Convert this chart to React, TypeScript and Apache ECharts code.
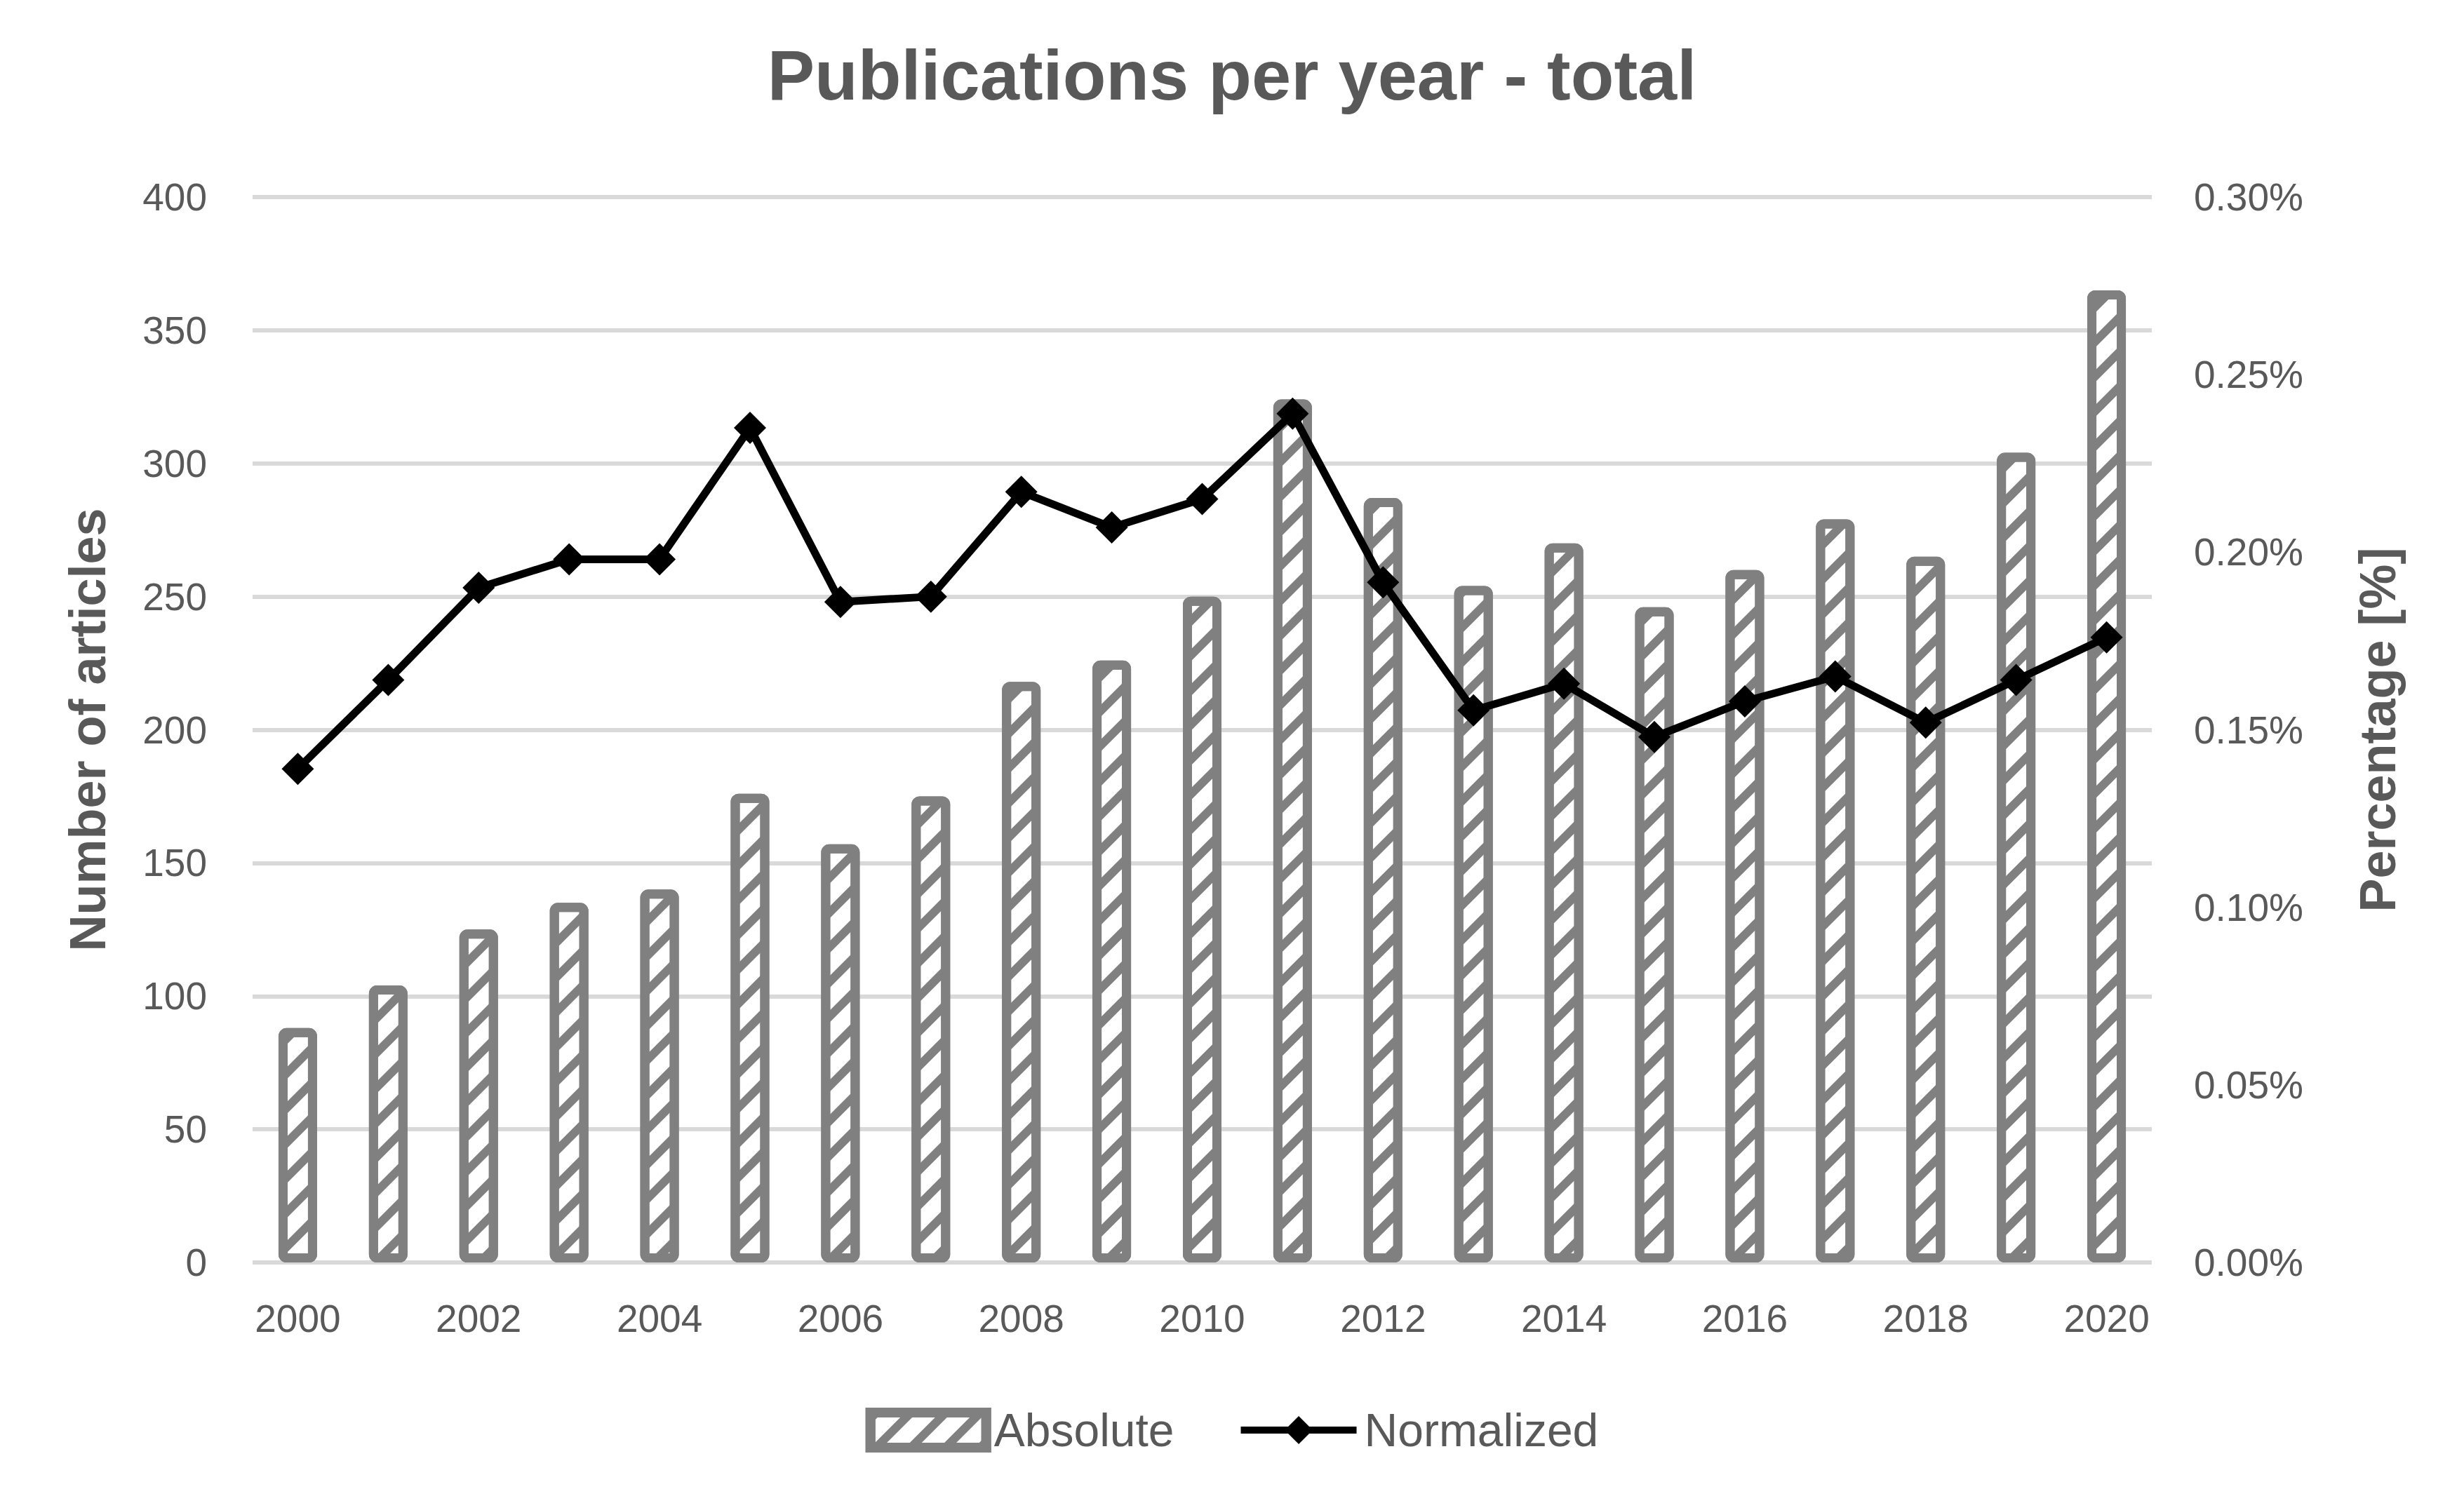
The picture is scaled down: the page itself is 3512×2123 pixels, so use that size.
import React, { useEffect, useRef } from "react";
import * as echarts from "echarts";

const years = ["2000", "2001", "2002", "2003", "2004", "2005", "2006", "2007", "2008", "2009", "2010", "2011", "2012", "2013", "2014", "2015", "2016", "2017", "2018", "2019", "2020"];
const absolute = [88, 104, 125, 135, 140, 176, 157, 175, 218, 226, 250, 324, 287, 254, 270, 246, 260, 279, 265, 304, 365];
const normalized = [0.139, 0.164, 0.19, 0.198, 0.198, 0.235, 0.186, 0.1875, 0.217, 0.207, 0.215, 0.239, 0.1915, 0.1555, 0.163, 0.148, 0.158, 0.165, 0.152, 0.164, 0.176];
const leftAxis = { min: 0, max: 400, interval: 50 };
const rightAxis = { min: 0, max: 0.3, interval: 0.05 };
const titleText = "Publications per year - total";
const leftName = "Number of articles";
const rightName = "Percentage [%]";
const seriesNames = ["Absolute", "Normalized"];

const FONT = "'Liberation Sans', Arial, sans-serif";
const TXT = "#595959";

export default function App() {
  const ref = useRef<HTMLDivElement>(null);
  useEffect(() => {
    document.body.style.margin = "0";
    const chart = echarts.init(ref.current!, null, { renderer: "svg" });
    const hatch = {
      symbol: "rect",
      symbolSize: 1,
      color: "#808080",
      dashArrayX: [1, 0],
      dashArrayY: [12, 23],
      rotation: -Math.PI / 4,
    };
    chart.setOption({
      animation: false,
      backgroundColor: "#fff",
      textStyle: { fontFamily: FONT },
      title: {
        text: titleText,
        left: "center",
        top: 51,
        textStyle: { fontFamily: FONT, fontSize: 101, fontWeight: "bold", color: TXT },
      },
      grid: { left: 360, right: 445, top: 281, bottom: 323, containLabel: false },
      legend: {
        top: 2001,
        left: "center",
        itemWidth: 165,
        itemHeight: 50,
        itemGap: 90,
        textStyle: { fontFamily: FONT, fontSize: 66, color: TXT, padding: [0, 0, 0, 6] },
        data: [
          {
            name: seriesNames[0],
            icon: "rect",
            itemStyle: { color: "#fff", borderColor: "#808080", borderWidth: 14, decal: hatch },
          },
          { name: seriesNames[1], lineStyle: { width: 10, color: "#000" }, itemStyle: { color: "#000" } },
        ],
      },
      xAxis: {
        type: "category",
        data: years,
        boundaryGap: true,
        axisLine: { show: false },
        axisTick: { show: false },
        axisLabel: { interval: 1, margin: 52, fontSize: 55, color: TXT, fontFamily: FONT },
      },
      yAxis: [
        {
          type: "value",
          min: leftAxis.min,
          max: leftAxis.max,
          interval: leftAxis.interval,
          name: leftName,
          nameLocation: "middle",
          nameRotate: 90,
          nameGap: 199,
          nameTextStyle: { fontFamily: FONT, fontSize: 72, fontWeight: "bold", color: TXT },
          axisLine: { show: false },
          axisTick: { show: false },
          axisLabel: { margin: 65, fontSize: 55, color: TXT, fontFamily: FONT },
          splitLine: { lineStyle: { color: "#d9d9d9", width: 6 } },
        },
        {
          type: "value",
          min: rightAxis.min,
          max: rightAxis.max,
          interval: rightAxis.interval,
          name: rightName,
          nameLocation: "middle",
          nameRotate: 90,
          nameGap: 286,
          nameTextStyle: { fontFamily: FONT, fontSize: 72, fontWeight: "bold", color: TXT },
          axisLine: { show: false },
          axisTick: { show: false },
          axisLabel: {
            margin: 60,
            fontSize: 55,
            color: TXT,
            fontFamily: FONT,
            formatter: (v: number) => v.toFixed(2) + "%",
          },
          splitLine: { show: false },
        },
      ],
      series: [
        {
          name: seriesNames[0],
          type: "bar",
          data: absolute,
          barWidth: 55,
          yAxisIndex: 0,
          itemStyle: {
            color: "#fff",
            borderColor: "#808080",
            borderWidth: 13,
            borderRadius: 5,
            decal: hatch,
          },
        },
        {
          name: seriesNames[1],
          type: "line",
          data: normalized,
          yAxisIndex: 1,
          symbol: "diamond",
          symbolSize: 46,
          z: 5,
          lineStyle: { color: "#000", width: 11 },
          itemStyle: { color: "#000" },
        },
      ],
    });
    return () => chart.dispose();
  }, []);
  return <div ref={ref} style={{ width: 3512, height: 2123 }} />;
}
